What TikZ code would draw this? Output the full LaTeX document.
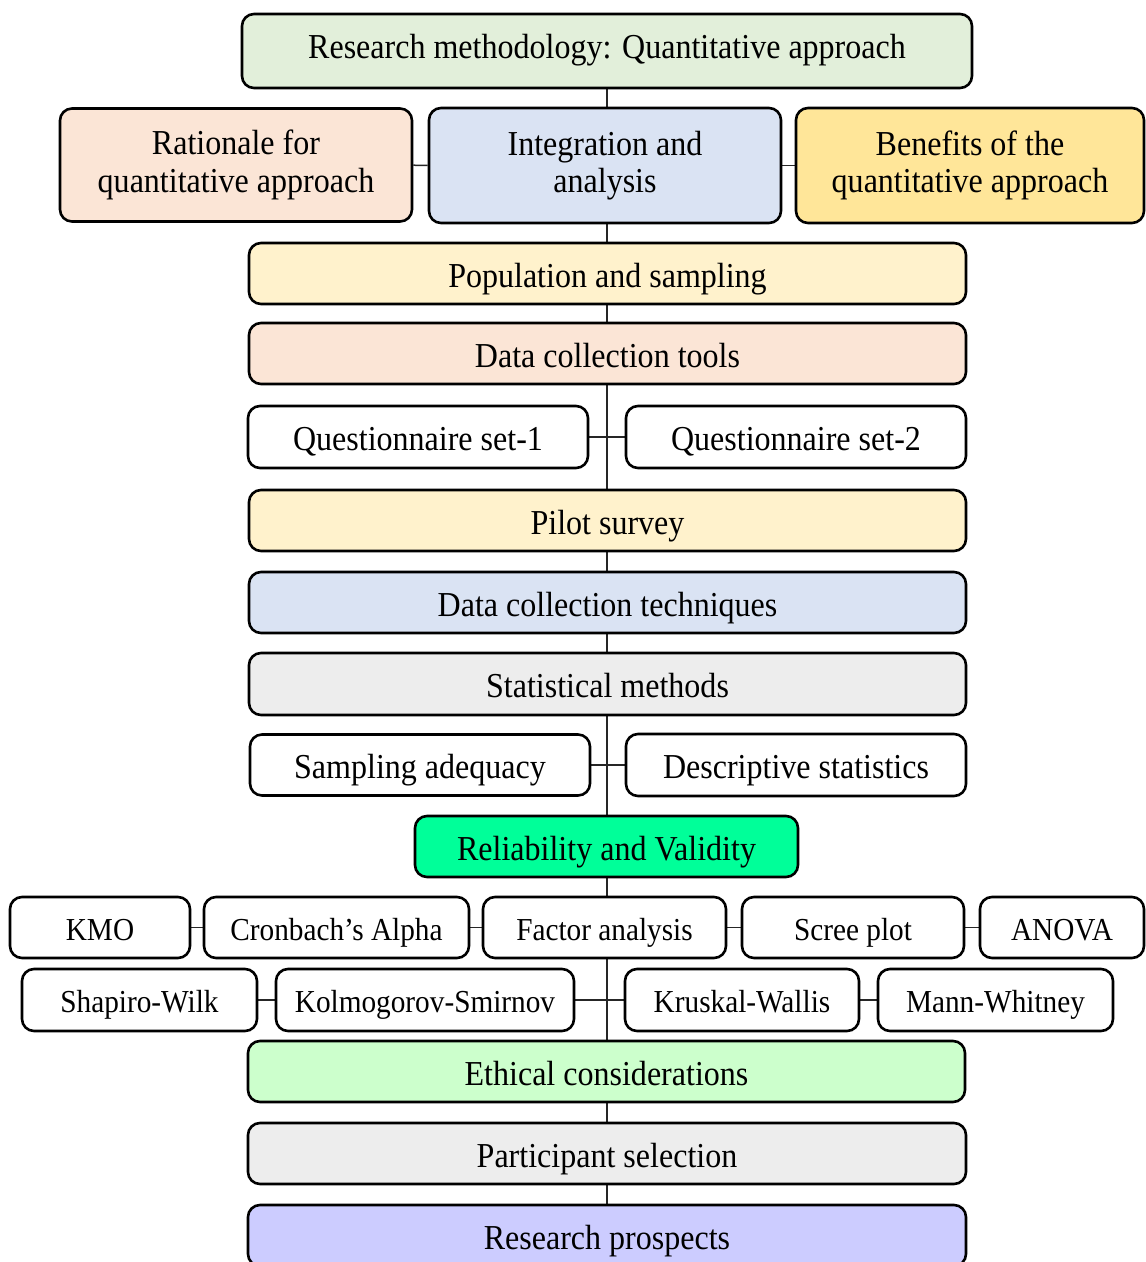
\documentclass[tikz,border=0pt]{standalone}
\usepackage{fontspec}
\setmainfont{Liberation Serif}[FakeStretch=0.915]
\usetikzlibrary{backgrounds}
\definecolor{cTop}{HTML}{E2EFDA}
\definecolor{cPeach}{HTML}{FBE5D6}
\definecolor{cBlue}{HTML}{DAE3F3}
\definecolor{cGold}{HTML}{FFE699}
\definecolor{cCream}{HTML}{FFF2CC}
\definecolor{cGrey}{HTML}{EDEDED}
\definecolor{cRel}{HTML}{00FF99}
\definecolor{cEth}{HTML}{CCFFCC}
\definecolor{cRes}{HTML}{CCCCFF}
\tikzset{
  box/.style={draw=black, line width=2.6pt, rounded corners=12pt, fill=white,
    align=center, inner sep=0pt, font=\fontsize{35}{37.5}\selectfont},
  one/.style={box, text height=32pt, text depth=5pt},
  tst/.style={one, font=\fontsize{32}{36}\selectfont, text height=30pt, text depth=5pt},
  conn/.style={line width=1.5pt, draw=black!85}
}
\begin{document}
\begin{tikzpicture}[x=1pt,y=-1pt]
\useasboundingbox (0,0) rectangle (1146,1262);
% main column
\node[box, text height=26pt, text depth=11pt, fill=cTop, minimum width=730, minimum height=74] (top) at (607,51) {Research methodology: Quantitative approach};
\node[box, fill=cPeach, minimum width=352, minimum height=113] (rat) at (236,165) {Rationale for\\quantitative approach};
\node[box, fill=cBlue, minimum width=352, minimum height=115] (int) at (605,165.5) {Integration and\\analysis};
\node[box, fill=cGold, minimum width=348, minimum height=115] (ben) at (970,165.5) {Benefits of the\\quantitative approach};
\node[one, fill=cCream, minimum width=717, minimum height=61] (pop) at (607.5,273.5) {Population and sampling};
\node[one, fill=cPeach, minimum width=717, minimum height=61] (dct) at (607.5,353.5) {Data collection tools};
\node[one, minimum width=340, minimum height=62] (q1) at (418,437) {Questionnaire set-1};
\node[one, minimum width=340, minimum height=62] (q2) at (796,437) {Questionnaire set-2};
\node[one, fill=cCream, minimum width=717, minimum height=61] (pil) at (607.5,520.5) {Pilot survey};
\node[one, fill=cBlue, minimum width=717, minimum height=61] (tech) at (607.5,602.5) {Data collection techniques};
\node[one, fill=cGrey, minimum width=717, minimum height=62] (stat) at (607.5,684) {Statistical methods};
\node[one, minimum width=340, minimum height=61] (samp) at (420,765) {Sampling adequacy};
\node[one, minimum width=340, minimum height=62] (desc) at (796,765) {Descriptive statistics};
\node[one, fill=cRel, minimum width=383, minimum height=61] (rel) at (606.5,846.5) {Reliability and Validity};
\node[tst, minimum width=180, minimum height=61] (kmo) at (100,927.5) {KMO};
\node[tst, minimum width=265, minimum height=61] (cron) at (336.5,927.5) {Cronbach’s Alpha};
\node[tst, minimum width=243, minimum height=61] (fac) at (604.5,927.5) {Factor analysis};
\node[tst, minimum width=222, minimum height=61] (scree) at (853,927.5) {Scree plot};
\node[tst, minimum width=164, minimum height=61] (anova) at (1062,927.5) {ANOVA};
\node[tst, minimum width=235, minimum height=62] (shap) at (139.5,1000) {Shapiro-Wilk};
\node[tst, minimum width=298, minimum height=62] (kol) at (425,1000) {Kolmogorov-Smirnov};
\node[tst, minimum width=234, minimum height=62] (krus) at (742,1000) {Kruskal-Wallis};
\node[tst, minimum width=235, minimum height=62] (mann) at (995.5,1000) {Mann-Whitney};
\node[one, fill=cEth, minimum width=717, minimum height=61] (eth) at (606.5,1071.5) {Ethical considerations};
\node[one, fill=cGrey, minimum width=718, minimum height=61] (part) at (607,1153.5) {Participant selection};
\node[one, fill=cRes, minimum width=718, minimum height=61] (res) at (607,1235.5) {Research prospects};
\begin{scope}[on background layer]
\draw[conn] (top.center) -- (top.center |- res.center);
\draw[conn] (rat) -- (int);
\draw[conn] (int) -- (ben);
\draw[conn] (q1) -- (q2);
\draw[conn] (samp) -- (desc);
\draw[conn] (kmo) -- (cron);
\draw[conn] (cron) -- (fac);
\draw[conn] (fac) -- (scree);
\draw[conn] (scree) -- (anova);
\draw[conn] (shap) -- (kol);
\draw[conn] (kol) -- (krus);
\draw[conn] (krus) -- (mann);
\end{scope}
\end{tikzpicture}
\end{document}
